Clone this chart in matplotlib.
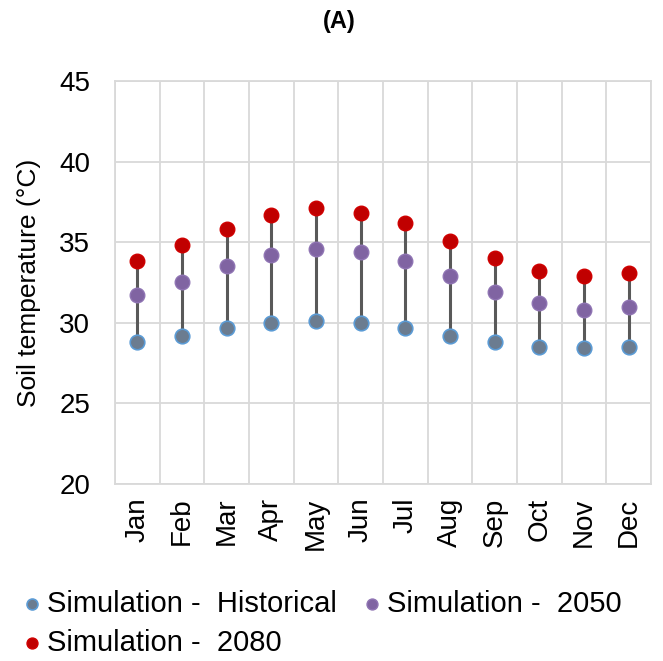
import matplotlib.pyplot as plt
import numpy as np

plt.rcParams['font.family'] = ['Liberation Sans', 'DejaVu Sans']

months = ["Jan", "Feb", "Mar", "Apr", "May", "Jun", "Jul", "Aug", "Sep", "Oct", "Nov", "Dec"]
historical = [28.8, 29.2, 29.7, 30.0, 30.1, 30.0, 29.7, 29.2, 28.8, 28.5, 28.4, 28.5]
sim_2050 = [31.7, 32.5, 33.5, 34.2, 34.6, 34.4, 33.8, 32.9, 31.9, 31.2, 30.8, 31.0]
sim_2080 = [33.8, 34.8, 35.8, 36.7, 37.1, 36.8, 36.2, 35.1, 34.0, 33.2, 32.9, 33.1]
series_labels = ["Simulation -  Historical", "Simulation -  2050", "Simulation -  2080"]

fig = plt.figure(figsize=(6.63, 6.61), dpi=100)
ax = fig.add_axes([0.1735, 0.268, 0.8085, 0.6095])

x = np.arange(len(months))
# high-low line from historical up to 2080
ax.vlines(x, historical, sim_2080, color='#595959', lw=2.2, zorder=2)

h1 = ax.scatter(x, historical, s=110, color='#6b7c90', edgecolors='#5b9bd5', linewidths=1.2, zorder=3)
h2 = ax.scatter(x, sim_2050, s=110, color='#8064a2', edgecolors='#8f74b3', linewidths=1.0, zorder=3)
h3 = ax.scatter(x, sim_2080, s=110, color='#c00000', edgecolors='#d00000', linewidths=1.0, zorder=3)

ax.set_xlim(-0.5, len(months) - 0.5)
ax.set_ylim(20, 45)
ax.set_yticks(range(20, 46, 5))
ax.set_xticks(x)
ax.set_xticklabels(months, rotation=90, fontsize=20)
ax.set_xticks(np.arange(-0.5, len(months), 1), minor=True)
ax.tick_params(axis='y', labelsize=20, length=0, pad=18)
ax.tick_params(axis='x', which='both', length=0, pad=10)
ax.grid(True, axis='y', color='#d9d9d9', lw=1.3)
ax.grid(True, axis='x', which='minor', color='#d9d9d9', lw=1.3)
ax.set_axisbelow(True)
for s in ax.spines.values():
    s.set_color('#d9d9d9')
    s.set_linewidth(1.3)

ax.set_ylabel("Soil temperature (°C)", fontsize=19, labelpad=13)
fig.text(0.511, 0.968, "(A)", ha='center', va='center', fontsize=17, fontweight='bold')

fig.legend([h1, h3, h2], [series_labels[0], series_labels[2], series_labels[1]],
           loc='upper left', bbox_to_anchor=(0.035, 0.108),
           ncol=2, frameon=False, fontsize=21, handlelength=0.6, handletextpad=0.21,
           columnspacing=0.91, labelspacing=0.38, markerscale=0.75,
           borderpad=0, borderaxespad=0)

fig.savefig("out.png", dpi=100)
